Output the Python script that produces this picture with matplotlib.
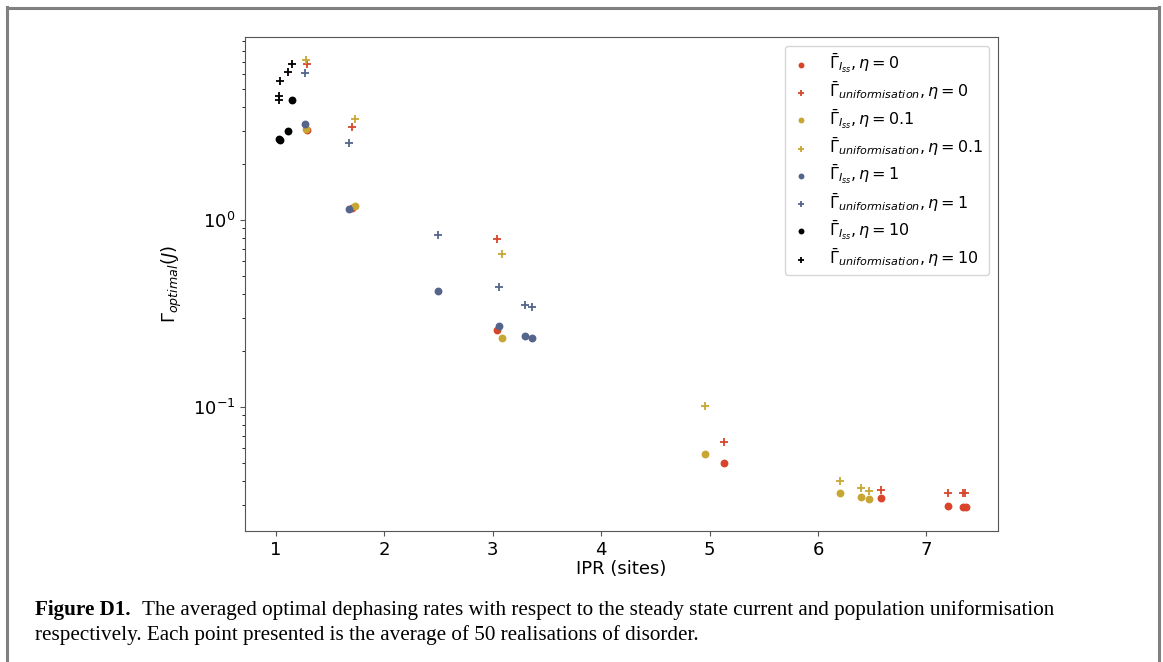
import matplotlib
matplotlib.use("Agg")
import matplotlib.pyplot as plt
from matplotlib.lines import Line2D

# ---- data ----
# eta = 0 (red)
ipr_iss_eta0 = [1.286, 1.699, 3.043, 5.130, 6.585, 7.196, 7.334, 7.362]
gam_iss_eta0 = [3.04, 1.164, 0.258, 0.0504, 0.0326, 0.0296, 0.0291, 0.0291]
ipr_uni_eta0 = [1.286, 1.699, 3.043, 5.130, 6.585, 7.196, 7.341, 7.356]
gam_uni_eta0 = [6.83, 3.13, 0.791, 0.0648, 0.0360, 0.0347, 0.0347, 0.0347]
# eta = 0.1 (gold)
ipr_iss_eta01 = [1.280, 1.729, 3.087, 4.955, 6.202, 6.399, 6.473]
gam_iss_eta01 = [3.07, 1.188, 0.234, 0.0561, 0.0348, 0.0330, 0.0322]
ipr_uni_eta01 = [1.277, 1.729, 3.087, 4.955, 6.202, 6.399, 6.473]
gam_uni_eta01 = [7.17, 3.46, 0.660, 0.101, 0.0401, 0.0367, 0.0357]
# eta = 1 (blue)
ipr_iss_eta1 = [1.268, 1.674, 2.496, 3.059, 3.299, 3.357]
gam_iss_eta1 = [3.26, 1.149, 0.417, 0.270, 0.239, 0.234]
ipr_uni_eta1 = [1.268, 1.671, 2.496, 3.059, 3.299, 3.357]
gam_uni_eta1 = [6.13, 2.57, 0.834, 0.438, 0.352, 0.344]
# eta = 10 (black)
ipr_iss_eta10 = [1.025, 1.035, 1.108, 1.148]
gam_iss_eta10 = [2.70, 2.66, 2.99, 4.38]
ipr_uni_eta10 = [1.028, 1.030, 1.034, 1.108, 1.150]
gam_uni_eta10 = [4.37, 4.62, 5.54, 6.16, 6.83]

series = [
    (ipr_iss_eta0, gam_iss_eta0, 'o', '#d8452b', r'$\bar{\Gamma}_{I_{ss}}, \eta = 0$'),
    (ipr_uni_eta0, gam_uni_eta0, '+', '#d8452b', r'$\bar{\Gamma}_{uniformisation}, \eta = 0$'),
    (ipr_iss_eta01, gam_iss_eta01, 'o', '#c8a634', r'$\bar{\Gamma}_{I_{ss}}, \eta = 0.1$'),
    (ipr_uni_eta01, gam_uni_eta01, '+', '#c8a634', r'$\bar{\Gamma}_{uniformisation}, \eta = 0.1$'),
    (ipr_iss_eta1, gam_iss_eta1, 'o', '#55648b', r'$\bar{\Gamma}_{I_{ss}}, \eta = 1$'),
    (ipr_uni_eta1, gam_uni_eta1, '+', '#55648b', r'$\bar{\Gamma}_{uniformisation}, \eta = 1$'),
    (ipr_iss_eta10, gam_iss_eta10, 'o', '#000000', r'$\bar{\Gamma}_{I_{ss}}, \eta = 10$'),
    (ipr_uni_eta10, gam_uni_eta10, '+', '#000000', r'$\bar{\Gamma}_{uniformisation}, \eta = 10$'),
]

caption_bold = "Figure D1."
caption_line1 = "The averaged optimal dephasing rates with respect to the steady state current and population uniformisation"
caption_line2 = "respectively. Each point presented is the average of 50 realisations of disorder."

W, H = 1163, 662
fig = plt.figure(figsize=(W / 100, H / 100), dpi=100)
ax = fig.add_axes([245 / W, 1 - 531 / H, (998 - 245) / W, (531 - 37) / H])

for x, y, m, c, lab in series:
    if m == 'o':
        ax.scatter(x, y, marker='o', s=32, color=c, label=lab, linewidths=0)
    else:
        ax.scatter(x, y, marker='+', s=36, color=c, label=lab, linewidths=1.3)

ax.set_yscale('log')
ax.set_xlim(0.714, 7.66)
ax.set_ylim(0.0217, 9.5)
ax.set_xticks([1, 2, 3, 4, 5, 6, 7])
ax.set_xlabel('IPR (sites)', fontsize=13, labelpad=1)
ax.set_ylabel(r'$\Gamma_{optimal}(J)$', fontsize=13, labelpad=6)
ax.tick_params(labelsize=13, color='#555555')
for sp in ax.spines.values():
    sp.set_color('#555555')

leg = ax.legend(loc='upper right', fontsize=11.5, labelspacing=0.30,
                handlelength=1.3, handletextpad=1.15, borderpad=0.35,
                borderaxespad=0.0, frameon=True,
                bbox_to_anchor=(0.9887, 0.982), markerscale=0.75)
leg.get_frame().set_edgecolor('#cccccc')

# page frame
fc = '#808080'
fig.add_artist(Line2D([7 / W, 7 / W], [0, 1 - 7 / H], color=fc, lw=2.2, transform=fig.transFigure))
fig.add_artist(Line2D([7 / W, 1159 / W], [1 - 7.5 / H, 1 - 7.5 / H], color=fc, lw=2.2, transform=fig.transFigure))
fig.add_artist(Line2D([1159 / W, 1159 / W], [0, 1 - 7 / H], color=fc, lw=2.2, transform=fig.transFigure))

# caption
serif = ['Liberation Serif', 'DejaVu Serif']
cap_fs = 15.25
t = fig.text(35 / W, 1 - 610 / H, caption_bold, fontsize=cap_fs, fontweight='bold',
             family=serif, va='center', ha='left')
fig.canvas.draw()
bb = t.get_window_extent()
fig.text((bb.x1 + 12) / W, 1 - 610 / H, caption_line1, fontsize=cap_fs, family=serif,
         va='center', ha='left')
fig.text(35 / W, 1 - 635 / H, caption_line2, fontsize=cap_fs, family=serif,
         va='center', ha='left')

fig.savefig('out.png', dpi=100)
